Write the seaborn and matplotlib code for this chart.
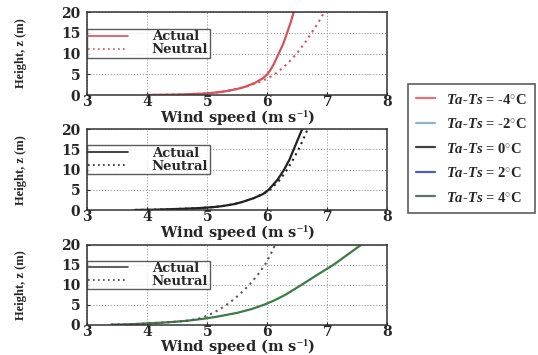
import matplotlib.pyplot as plt
import pandas as pd
import seaborn as sns
from matplotlib.lines import Line2D

# heights (m) at which the profiles were read
heights = [0.05, 0.1, 0.2, 0.35, 0.5, 0.75, 1, 1.5, 2, 3, 4, 5, 6, 7.5, 10, 12.5, 15, 17.5, 20]

# wind speed (m/s) for each panel: actual and neutral profile
actual_m4 = [4.0, 4.35, 4.65, 4.9, 5.05, 5.22, 5.33, 5.5, 5.63, 5.8, 5.92, 6.0, 6.05,
             6.11, 6.19, 6.27, 6.33, 6.39, 6.44]
neutral_m4 = [4.0, 4.35, 4.65, 4.9, 5.05, 5.22, 5.33, 5.5, 5.64, 5.85, 6.0, 6.12, 6.21,
              6.33, 6.49, 6.62, 6.74, 6.85, 6.95]
actual_0 = [3.8, 4.05, 4.3, 4.6, 4.85, 5.1, 5.25, 5.45, 5.58, 5.78, 5.93, 6.02, 6.08,
            6.17, 6.28, 6.37, 6.44, 6.51, 6.58]
neutral_0 = [3.8, 4.05, 4.3, 4.6, 4.85, 5.1, 5.25, 5.45, 5.58, 5.78, 5.93, 6.04, 6.11,
             6.21, 6.33, 6.43, 6.52, 6.6, 6.67]
actual_p4 = [3.4, 3.6, 3.8, 4.0, 4.2, 4.45, 4.65, 4.93, 5.15, 5.5, 5.75, 5.94, 6.1,
             6.3, 6.57, 6.83, 7.1, 7.33, 7.56]
neutral_p4 = [3.4, 3.6, 3.8, 4.0, 4.2, 4.45, 4.65, 4.85, 4.95, 5.1, 5.22, 5.32, 5.41,
              5.53, 5.7, 5.84, 5.96, 6.05, 6.13]

temp_diffs = ['-4', '-2', '0', '2', '4']
temp_colors = ['#e8707a', '#8fb3cf', '#404040', '#5060b0', '#58766a']

# actual colour, neutral colour, legend line colour
panels = [
    (actual_m4, neutral_m4, '#d8505a', '#d8505a', '#d8505a'),
    (actual_0, neutral_0, '#222222', '#222222', '#222222'),
    (actual_p4, neutral_p4, '#3e7a46', '#555555', '#444444'),
]

sns.set_style('ticks')
plt.rcParams['font.family'] = ['DejaVu Serif']
plt.rcParams['font.weight'] = 'bold'
plt.rcParams['mathtext.fontset'] = 'custom'
plt.rcParams['mathtext.it'] = 'Liberation Serif:italic:bold'
plt.rcParams['mathtext.rm'] = 'Liberation Serif:bold'

fig = plt.figure(figsize=(5.38, 3.55), dpi=100)
boxes = [[0.162, 0.732, 0.558, 0.234],
         [0.162, 0.408, 0.558, 0.228],
         [0.162, 0.085, 0.558, 0.225]]

for box, (act, neu, c_act, c_neu, c_leg) in zip(boxes, panels):
    ax = fig.add_axes(box)
    df = pd.DataFrame({'speed': act, 'z': heights})
    dn = pd.DataFrame({'speed': neu, 'z': heights})
    sns.lineplot(data=df, x='speed', y='z', sort=False, estimator=None,
                 color=c_act, linewidth=1.6, ax=ax)
    sns.lineplot(data=dn, x='speed', y='z', sort=False, estimator=None,
                 color=c_neu, linewidth=1.5, linestyle=(0, (1, 2)), ax=ax)
    ax.set_xlim(3, 8)
    ax.set_ylim(0, 20)
    ax.set_xticks([3, 4, 5, 6, 7, 8])
    ax.set_yticks([0, 5, 10, 15, 20])
    ax.grid(True, color='#888888', linestyle=(0, (1, 2)), linewidth=0.7)
    ax.tick_params(axis='x', direction='in', length=2, labelsize=10, pad=0)
    ax.tick_params(axis='y', direction='in', length=2, labelsize=10, pad=5)
    for s in ax.spines.values():
        s.set_linewidth(1.1)
        s.set_color('#333333')
    ax.set_xlabel('Wind speed (m s$^{-1}$)', fontsize=10.5, fontweight='bold', labelpad=-1)
    ax.set_ylabel('Height, z (m)', fontsize=9, fontweight='bold',
                  family='Liberation Serif')
    ax.yaxis.set_label_coords(-0.2, 0.5)
    handles = [Line2D([0], [0], color=c_leg, linewidth=1.2, label='Actual'),
               Line2D([0], [0], color=c_leg, linewidth=1.2, linestyle=(0, (1, 2)),
                      label='Neutral')]
    leg = ax.legend(handles=handles, loc='center left', bbox_to_anchor=(0, 0.625),
                    fontsize=9.5, frameon=True, fancybox=False, borderpad=0.1,
                    labelspacing=0.0, handlelength=3.0, handletextpad=1.8,
                    borderaxespad=0)
    leg.get_frame().set_edgecolor('#333333')
    leg.get_frame().set_linewidth(1.0)

temp_handles = [Line2D([0], [0], color=c, linewidth=1.6,
                       label=r'$Ta$-$Ts$ = ' + t + r'$^{\circ}$C')
                for t, c in zip(temp_diffs, temp_colors)]
fl = fig.legend(handles=temp_handles, loc='upper left', bbox_to_anchor=(0.758, 0.762),
                frameon=True, fancybox=False, handlelength=1.3,
                handletextpad=0.8, labelspacing=0.72, borderpad=0.55, borderaxespad=0,
                prop={'family': 'Liberation Serif', 'weight': 'bold', 'size': 10.5})
fl.get_frame().set_edgecolor('#333333')
fl.get_frame().set_linewidth(1.2)

fig.savefig('out.png', dpi=100)
